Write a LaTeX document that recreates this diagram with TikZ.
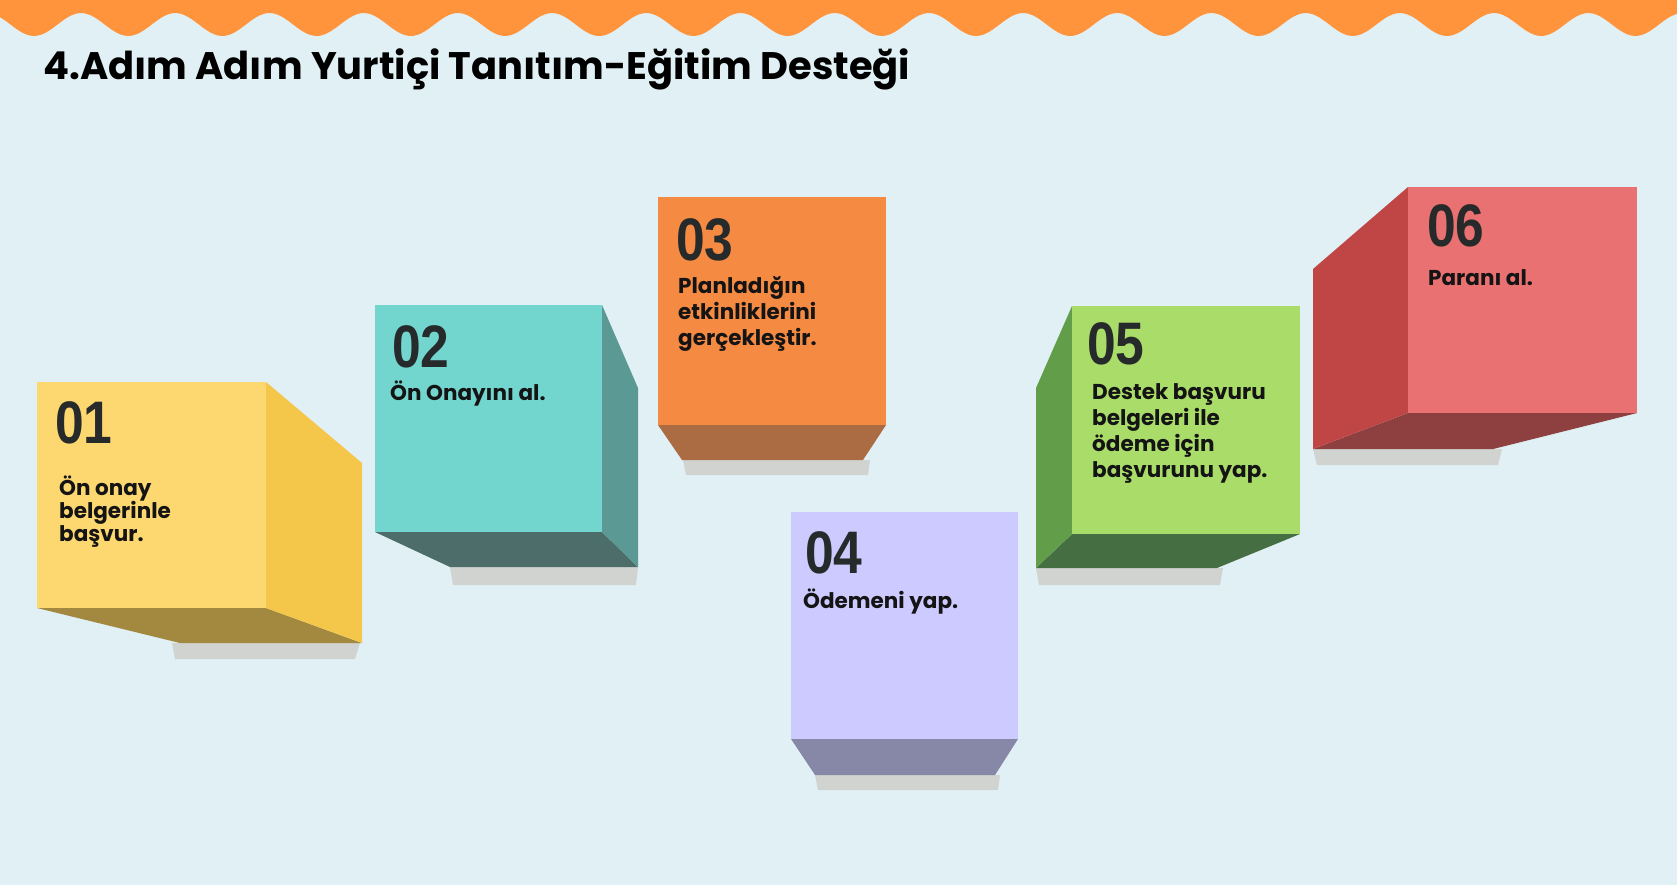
\documentclass[tikz,border=0pt]{standalone}
\usepackage{fontspec}
\setmainfont{Poppins}
\newfontfamily\numfont[FakeStretch=0.86]{Liberation Sans}

\definecolor{bgblue}{HTML}{E1F0F5}
\definecolor{waveorange}{HTML}{FF943C}
\definecolor{shadowgray}{HTML}{D0D3D0}
\definecolor{numgray}{HTML}{262A2A}
\definecolor{txtblack}{HTML}{141414}
% one front / side / bottom colour for each box
\definecolor{yelF}{HTML}{FDD870}\definecolor{yelS}{HTML}{F4C74B}\definecolor{yelB}{HTML}{A3883F}
\definecolor{turF}{HTML}{72D6CF}\definecolor{turS}{HTML}{5B9A94}\definecolor{turB}{HTML}{4C6D69}
\definecolor{oraF}{HTML}{F58A43}\definecolor{oraB}{HTML}{AC6C43}
\definecolor{lilF}{HTML}{CCCAFE}\definecolor{lilB}{HTML}{8787A8}
\definecolor{greF}{HTML}{AADC69}\definecolor{greS}{HTML}{629E4A}\definecolor{greB}{HTML}{466E43}
\definecolor{redF}{HTML}{EA7171}\definecolor{redS}{HTML}{C04646}\definecolor{redB}{HTML}{8E3F3F}

\begin{document}
\begin{tikzpicture}[x=1pt, y=-1pt,
    num/.style={anchor=base west, inner sep=0pt, text=numgray,
        font=\numfont\bfseries\fontsize{60}{60}\selectfont},
    % base anchor of a text = baseline of its last line
    txt/.style={anchor=base west, inner sep=0pt, align=left, text=txtblack,
        font=\bfseries\fontsize{21.5}{26}\selectfont},
    shadowbox/.style={fill=shadowgray}]
    \useasboundingbox (0,0) rectangle (1677,885);

    % Background and wavy orange border on top
    \fill[bgblue] (0,0) rectangle (1677,885);
    \fill[waveorange] (0,0) -- plot[domain=0:1677, samples=240, smooth]
        (\x, {24.5+11.5*cos((\x-34)/94.2*360)}) -- (1677,0) -- cycle;

    \node[anchor=base west, inner sep=0pt, text=black,
        font=\bfseries\fontsize{38.4}{40}\selectfont] (title) at (43,80)
        {4.Adım Adım Yurtiçi Tanıtım-Eğitim Desteği};

    % Box 01 (side face on the right)
    \fill[shadowbox] (172,643) -- (360,643) -- (355,659) -- (175,659) -- cycle;
    \fill[yelB] (37,608) -- (266,608) -- (362,643) -- (180,643) -- cycle;
    \fill[yelS] (266,382) -- (362,463) -- (362,643) -- (266,608) -- cycle;
    \fill[yelF] (37,382) rectangle (266,608);

    % Box 02
    \fill[shadowbox] (450,567) -- (638,567) -- (636,585) -- (453,585) -- cycle;
    \fill[turB] (375,532) -- (602,532) -- (638,567) -- (450,567) -- cycle;
    \fill[turS] (602,305) -- (638,388) -- (638,567) -- (602,532) -- cycle;
    \fill[turF] (375,305) rectangle (602,532);

    % Box 03 (bottom face only)
    \fill[shadowbox] (683,460) -- (870,460) -- (868,475) -- (686,475) -- cycle;
    \fill[oraB] (658,425) -- (886,425) -- (863,460) -- (682,460) -- cycle;
    \fill[oraF] (658,197) rectangle (886,425);

    % Box 04
    \fill[shadowbox] (815,775) -- (1000,775) -- (998,790) -- (818,790) -- cycle;
    \fill[lilB] (791,739) -- (1018,739) -- (995,775) -- (815,775) -- cycle;
    \fill[lilF] (791,512) rectangle (1018,739);

    % Box 05 (side face on the left)
    \fill[shadowbox] (1036,568) -- (1223,568) -- (1220,585) -- (1039,585) -- cycle;
    \fill[greB] (1036,568) -- (1072,534) -- (1300,534) -- (1217,568) -- cycle;
    \fill[greS] (1036,388) -- (1072,306) -- (1072,534) -- (1036,568) -- cycle;
    \fill[greF] (1072,306) rectangle (1300,534);

    % Box 06
    \fill[shadowbox] (1313,449) -- (1502,449) -- (1498,465) -- (1317,465) -- cycle;
    \fill[redB] (1313,449) -- (1408,413) -- (1637,413) -- (1493,449) -- cycle;
    \fill[redS] (1313,269) -- (1408,187) -- (1408,413) -- (1313,449) -- cycle;
    \fill[redF] (1408,187) rectangle (1637,413);

    % Step numbers
    \node[num] (n1) at (55,443) {01};
    \node[num] (n2) at (392,367) {02};
    \node[num] (n3) at (676,260) {03};
    \node[num] (n4) at (805,573) {04};
    \node[num] (n5) at (1087,364) {05};
    \node[num] (n6) at (1427,247) {06};

    % Step texts
    \node[txt, font=\bfseries\fontsize{21.5}{23}\selectfont] (t1) at (59,541)
        {Ön onay\\belgerinle\\başvur.};
    \node[txt] (t2) at (390,400) {Ön Onayını al.};
    \node[txt] (t3) at (678,345) {Planladığın\\etkinliklerini\\gerçekleştir.};
    \node[txt] (t4) at (803,608) {Ödemeni yap.};
    \node[txt] (t5) at (1092,477)
        {Destek başvuru\\belgeleri ile\\ödeme için\\başvurunu yap.};
    \node[txt] (t6) at (1428,285) {Paranı al.};
\end{tikzpicture}
\end{document}
